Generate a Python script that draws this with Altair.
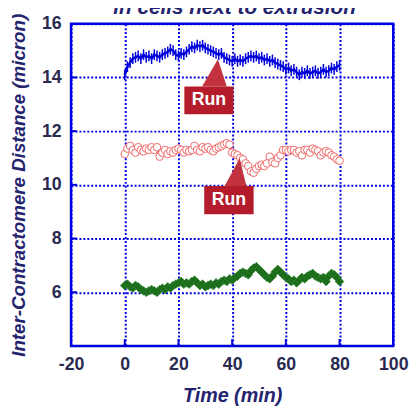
import altair as alt
import pandas as pd

# ---------------- data ----------------
times = list(range(81))
blue_vals = [14.1, 14.4, 14.55, 14.7, 14.75, 14.8, 14.7, 14.85, 14.75, 14.8,
             14.7, 14.85, 14.8, 14.75, 14.85, 14.9, 14.95, 15.05, 15.0, 14.85,
             14.8, 14.9, 14.85, 14.95, 15.05, 15.15, 15.1, 15.2, 15.15, 15.2,
             15.1, 15.05, 15.0, 14.95, 14.9, 14.85, 14.9, 14.75, 14.7, 14.65,
             14.6, 14.7, 14.6, 14.65, 14.6, 14.7, 14.75, 14.8, 14.75, 14.8,
             14.7, 14.75, 14.65, 14.7, 14.6, 14.65, 14.55, 14.5, 14.45, 14.4,
             14.3, 14.35, 14.25, 14.3, 14.2, 14.1, 14.2, 14.15, 14.25, 14.15,
             14.2, 14.25, 14.15, 14.2, 14.3, 14.2, 14.25, 14.35, 14.3, 14.4,
             14.45]
blue_err = 0.2
red_vals = [11.15, 11.35, 11.45, 11.3, 11.2, 11.4, 11.3, 11.25, 11.35, 11.3,
            11.4, 11.3, 11.4, 11.05, 11.2, 11.3, 11.15, 11.25, 11.2, 11.3,
            11.35, 11.3, 11.2, 11.3, 11.25, 11.3, 11.45, 11.3, 11.25, 11.4,
            11.35, 11.4, 11.3, 11.25, 11.35, 11.4, 11.45, 11.5, 11.55, 11.5,
            11.2, 11.15, 11.1, 11.0, 10.95, 10.8, 10.7, 10.5, 10.45, 10.6,
            10.7, 10.75, 10.7, 10.8, 11.05, 10.85, 10.8, 11.0, 11.1, 11.3,
            11.3, 11.25, 11.3, 11.3, 11.2, 11.25, 11.1, 11.3, 11.3, 11.2,
            11.35, 11.3, 11.25, 11.1, 11.2, 11.25, 11.2, 11.1, 11.05, 10.95,
            10.9]
green_vals = [6.25, 6.3, 6.2, 6.15, 6.25, 6.2, 6.1, 6.05, 6.0, 6.05,
              6.1, 6.05, 6.0, 6.1, 6.15, 6.1, 6.2, 6.15, 6.25, 6.3,
              6.35, 6.4, 6.3, 6.35, 6.3, 6.4, 6.45, 6.35, 6.25, 6.3,
              6.2, 6.25, 6.3, 6.25, 6.35, 6.3, 6.4, 6.45, 6.4, 6.5,
              6.45, 6.55, 6.6, 6.7, 6.75, 6.7, 6.65, 6.8, 6.9, 6.95,
              6.85, 6.75, 6.65, 6.55, 6.5, 6.6, 6.75, 6.85, 6.75, 6.65,
              6.55, 6.5, 6.4, 6.45, 6.35, 6.45, 6.55, 6.5, 6.6, 6.65,
              6.7, 6.6, 6.55, 6.5, 6.55, 6.4, 6.6, 6.7, 6.65, 6.55,
              6.4]

x_ticks = [-20, 0, 20, 40, 60, 80, 100]
y_ticks = [6, 8, 10, 12, 14, 16]

title_text = "in cells next to extrusion"
x_title = "Time (min)"
y_title = "Inter-Contractomere Distance (micron)"

# callouts: label box (x1, x2, y1, y2) and pointer triangle (left, tip, right)
callout_label = ["Run", "Run"]
box_x1 = [22.2, 29.6]
box_x2 = [40.5, 48.0]
box_y1 = [12.63, 8.9]
box_y2 = [13.66, 9.96]
tri_left = [28.8, 37.2]
tri_tip_x = [34.7, 42.8]
tri_tip_y = [14.68, 10.99]
tri_right = [38.0, 45.3]

# ---------------- tables ----------------
blue_df = pd.DataFrame({"t": times, "v": blue_vals})
blue_df["lo"] = blue_df["v"] - blue_err
blue_df["hi"] = blue_df["v"] + blue_err
red_df = pd.DataFrame({"t": times, "v": red_vals})
green_df = pd.DataFrame({"t": times, "v": green_vals})

box_df = pd.DataFrame({"x1": box_x1, "x2": box_x2, "y1": box_y1, "y2": box_y2,
                       "label": callout_label,
                       "xc": [(a + b) / 2 for a, b in zip(box_x1, box_x2)],
                       "yc": [(a + b) / 2 for a, b in zip(box_y1, box_y2)]})

NAVY = "#24246e"
LABEL = "#2a2a50"
FONT = "Liberation Sans"
LFONT = "Liberation Sans Narrow, Liberation Sans"

xscale = alt.Scale(domain=[-20, 100], nice=False, zero=False)
yscale = alt.Scale(domain=[4, 16], nice=False, zero=False)

x_enc = alt.X("t:Q", scale=xscale, axis=alt.Axis(
    values=x_ticks, title=x_title, grid=True, ticks=False, domain=False,
    labelExpr="toString(datum.value)",
    labelFont=LFONT, labelFontSize=18, labelFontWeight="bold", labelColor=LABEL,
    labelPadding=10, titleFont=FONT, titleFontSize=20, titleFontWeight="bold",
    titleFontStyle="italic", titleColor=NAVY, titlePadding=12,
    gridColor="#0000e6", gridDash=[2, 2], gridWidth=2, gridOpacity=1,
    labelFlush=False))
y_enc = alt.Y("v:Q", scale=yscale, axis=alt.Axis(
    values=y_ticks, title=y_title, grid=True, ticks=False, domain=False,
    labelFont=LFONT, labelFontSize=18, labelFontWeight="bold", labelColor=LABEL,
    labelPadding=10, titleFont=FONT, titleFontSize=19, titleFontWeight="bold",
    titleFontStyle="italic", titleColor=NAVY, titlePadding=13,
    gridColor="#0000e6", gridDash=[2, 2], gridWidth=2, gridOpacity=1,
    labelFlush=False))

blue_line = alt.Chart(blue_df).mark_line(color="#0000dd", strokeWidth=2.5).encode(
    x=x_enc, y=y_enc)
blue_err_bars = alt.Chart(blue_df).mark_rule(color="#0000dd", strokeWidth=1.5).encode(
    x="t:Q", y="lo:Q", y2="hi:Q")

red_line = alt.Chart(red_df).mark_line(color="#dd0000", strokeWidth=2).encode(
    x="t:Q", y="v:Q")
red_pts = alt.Chart(red_df).mark_point(
    shape="circle", size=60, filled=False, fill="white", fillOpacity=1,
    stroke="#f06a6a", strokeWidth=1, opacity=1).encode(x="t:Q", y="v:Q")

green_line = alt.Chart(green_df).mark_line(color="#176317", strokeWidth=2).encode(
    x="t:Q", y="v:Q")
green_pts = alt.Chart(green_df).mark_point(
    shape="diamond", size=80, filled=True, color="#1b6b1b", opacity=1,
    stroke="#2f8a2f", strokeWidth=0.6).encode(x="t:Q", y="v:Q")

tri_layers = []
for i in range(len(callout_label)):
    base = box_y2[i]
    tdf = pd.DataFrame({
        "x": [tri_left[i], tri_tip_x[i], tri_right[i]],
        "y": [base, tri_tip_y[i], base],
        "yb": [base, base, base],
    })
    tri_layers.append(
        alt.Chart(tdf).mark_area(color="#c2323f", opacity=1, interpolate="linear").encode(
            x=alt.X("x:Q", sort=None),
            y=alt.Y("y:Q", stack=None),
            y2="yb:Q"))

box = alt.Chart(box_df).mark_rect(color="#b41c2c", opacity=1).encode(
    x="x1:Q", x2="x2:Q", y="y1:Q", y2="y2:Q")
box_text = alt.Chart(box_df).mark_text(
    color="white", font=FONT, fontSize=18, fontWeight="bold",
    baseline="middle", align="center").encode(x="xc:Q", y="yc:Q", text="label:N")

# frame ticks inside the axis lines
tick_x_df = pd.DataFrame({"t": x_ticks[1:-1]})
xticks_layer = alt.Chart(tick_x_df).mark_rule(color="#0000dd", strokeWidth=2).encode(
    x="t:Q", y=alt.value(327), y2=alt.value(320))
tick_y_df = pd.DataFrame({"v": y_ticks[:-1]})
yticks_layer = alt.Chart(tick_y_df).mark_rule(color="#0000dd", strokeWidth=2).encode(
    y="v:Q", x=alt.value(0), x2=alt.value(6))

title_layer = alt.Chart(pd.DataFrame({"s": [title_text]})).mark_text(
    font=FONT, fontSize=21, fontWeight="bold", fontStyle="italic", color=NAVY,
    align="center", baseline="alphabetic").encode(
    x=alt.value(166), y=alt.value(-10), text="s:N")

chart = alt.layer(
    blue_line, blue_err_bars, red_line, red_pts, green_line, green_pts,
    xticks_layer, yticks_layer, *tri_layers, box, box_text, title_layer
).properties(
    width=327, height=327,
    autosize=alt.AutoSizeParams(type="none"),
    padding={"left": 64, "top": 13, "right": 16, "bottom": 58},
).configure_view(stroke="#0000dd", strokeWidth=2.5)

chart.save("out.html", embed_options={"renderer": "svg", "actions": False})
